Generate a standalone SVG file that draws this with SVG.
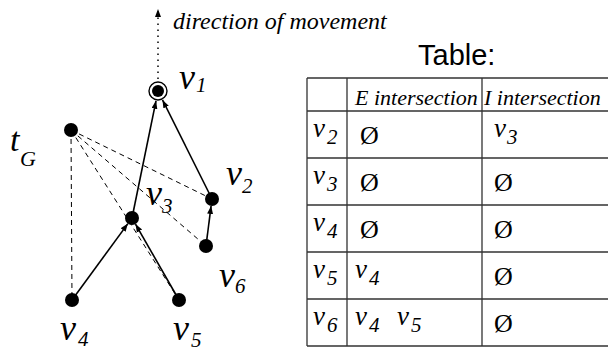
<svg xmlns="http://www.w3.org/2000/svg" width="608" height="352" viewBox="0 0 608 352">
<style>
text{font-family:'Liberation Serif','Times New Roman','DejaVu Serif',serif;fill:#000}
.lbl{font-style:italic;font-size:36px}
.sub{font-style:italic;font-size:21px}
.tl{font-style:italic;font-size:27px}
.hd{font-style:italic;font-size:22px}
.em{font-style:normal;font-size:26px}
.node{fill:#000}
.arr{stroke:#000;stroke-width:1.6;fill:none;marker-end:url(#ah)}
.dash{stroke:#000;stroke-width:1;fill:none;stroke-dasharray:5,4}
.grid{stroke:#333;stroke-width:1.3;fill:none}
</style>
<defs>
<marker id="ah" markerUnits="userSpaceOnUse" markerWidth="9" markerHeight="7" refX="8" refY="3" orient="auto">
<path d="M0,0 L8,3 L0,6 z" fill="#000"/>
</marker>
</defs>
<rect width="608" height="352" fill="#fff"/>

<g id="connectors">
<line class="dash" x1="71" y1="130" x2="72" y2="300"/>
<line class="dash" x1="71" y1="130" x2="179" y2="300"/>
<line class="dash" x1="71" y1="130" x2="206" y2="246"/>
<line class="dash" x1="71" y1="130" x2="212" y2="199"/>
<line class="arr" x1="72" y1="300" x2="127.9" y2="223.6"/>
<line class="arr" x1="179" y1="300" x2="135.5" y2="224.1"/>
<line class="arr" x1="206" y1="246" x2="211.1" y2="205.9"/>
<line class="arr" x1="132" y1="218" x2="156" y2="100.8"/>
<line class="arr" x1="212" y1="199" x2="162.5" y2="99.9"/>
<line x1="158" y1="79" x2="158" y2="9" stroke="#000" stroke-width="1.5" stroke-dasharray="1.5,4.5" marker-end="url(#ah)"/>
</g>

<text class="lbl" x="173" y="29" style="font-size:24px">direction of movement</text>

<g id="v1">
<circle cx="158" cy="91" r="9" fill="#fff" stroke="#000" stroke-width="1.4"/>
<circle class="node" cx="158" cy="91" r="6"/>
<text class="lbl" x="179" y="89">v<tspan class="sub" x="196" y="92">1</tspan></text>
</g>
<g id="tG">
<circle class="node" cx="71" cy="130" r="7"/>
<text class="lbl" x="10" y="151" style="font-size:34px">t<tspan style="font-size:22px" x="20" y="166">G</tspan></text>
</g>
<g id="v2">
<circle class="node" cx="212" cy="199" r="7"/>
<text class="lbl" x="226" y="185">v<tspan class="sub" x="242" y="193">2</tspan></text>
</g>
<g id="v3">
<circle class="node" cx="132" cy="218" r="7"/>
<text class="lbl" x="146" y="205">v<tspan class="sub" x="162" y="213">3</tspan></text>
</g>
<g id="v6">
<circle class="node" cx="206" cy="246" r="7"/>
<text class="lbl" x="219" y="287">v<tspan class="sub" x="235" y="293">6</tspan></text>
</g>
<g id="v4">
<circle class="node" cx="72" cy="300" r="7"/>
<text class="lbl" x="60" y="340">v<tspan class="sub" x="78" y="346">4</tspan></text>
</g>
<g id="v5">
<circle class="node" cx="179" cy="300" r="7"/>
<text class="lbl" x="173" y="340">v<tspan class="sub" x="191" y="347">5</tspan></text>
</g>

<g id="table">
<text x="418" y="65" style="font-family:'Liberation Sans',Arial,sans-serif;font-size:29px">Table:</text>
<path class="grid" d="M307,78 H608 M307,111 H608 M307,158 H608 M307,205 H608 M307,252 H608 M307,299 H608 M307,346 H608 M307,78 V346 M347,78 V346 M482,78 V346"/>
<text class="hd" x="355" y="105">E intersection</text>
<text class="hd" x="484" y="105">I intersection</text>

<text class="tl" x="313" y="137">v<tspan class="sub" x="327" y="144">2</tspan></text>
<text class="em" x="360" y="144">Ø</text>
<text class="tl" x="494" y="137">v<tspan class="sub" x="507" y="144">3</tspan></text>

<text class="tl" x="313" y="184">v<tspan class="sub" x="327" y="191">3</tspan></text>
<text class="em" x="360" y="191">Ø</text>
<text class="em" x="494" y="191">Ø</text>

<text class="tl" x="313" y="231">v<tspan class="sub" x="327" y="238">4</tspan></text>
<text class="em" x="360" y="238">Ø</text>
<text class="em" x="494" y="238">Ø</text>

<text class="tl" x="313" y="278">v<tspan class="sub" x="327" y="285">5</tspan></text>
<text class="tl" x="355" y="278">v<tspan class="sub" x="369" y="285">4</tspan></text>
<text class="em" x="494" y="285">Ø</text>

<text class="tl" x="313" y="325">v<tspan class="sub" x="327" y="332">6</tspan></text>
<text class="tl" x="355" y="325">v<tspan class="sub" x="369" y="332">4</tspan></text>
<text class="tl" x="397" y="325">v<tspan class="sub" x="411" y="332">5</tspan></text>
<text class="em" x="494" y="332">Ø</text>
</g>
</svg>
